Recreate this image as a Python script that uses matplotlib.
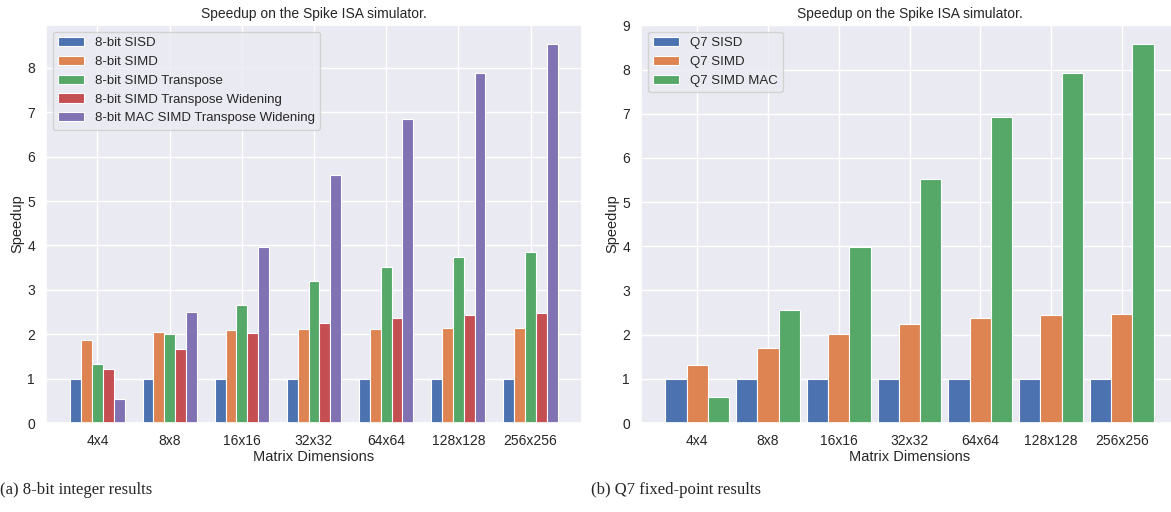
import numpy as np
import matplotlib
matplotlib.use("Agg")
import matplotlib.pyplot as plt
import seaborn as sns

sizes = ["4x4", "8x8", "16x16", "32x32", "64x64", "128x128", "256x256"]

# 8-bit integer results
int8_labels = [
    "8-bit SISD",
    "8-bit SIMD",
    "8-bit SIMD Transpose",
    "8-bit SIMD Transpose Widening",
    "8-bit MAC SIMD Transpose Widening",
]
int8_sisd = [1.0, 1.0, 1.0, 1.0, 1.0, 1.0, 1.0]
int8_simd = [1.88, 2.04, 2.10, 2.12, 2.12, 2.14, 2.14]
int8_transpose = [1.32, 2.00, 2.66, 3.19, 3.52, 3.73, 3.85]
int8_widening = [1.22, 1.67, 2.02, 2.25, 2.37, 2.43, 2.48]
int8_mac = [0.54, 2.49, 3.97, 5.58, 6.85, 7.88, 8.54]

# Q7 fixed-point results
q7_labels = ["Q7 SISD", "Q7 SIMD", "Q7 SIMD MAC"]
q7_sisd = [1.0, 1.0, 1.0, 1.0, 1.0, 1.0, 1.0]
q7_simd = [1.31, 1.70, 2.01, 2.24, 2.38, 2.44, 2.47]
q7_mac = [0.58, 2.55, 3.98, 5.53, 6.93, 7.93, 8.58]

sns.set_theme(style="darkgrid")
plt.rcParams["font.family"] = ["Liberation Sans", "DejaVu Sans"]
colors = sns.color_palette("deep")


def grouped_bars(ax, series, labels, width):
    x = np.arange(len(sizes))
    n = len(series)
    for i, (vals, lab) in enumerate(zip(series, labels)):
        offset = (i - (n - 1) / 2) * width
        ax.bar(x + offset, vals, width, label=lab, color=colors[i],
               edgecolor="white", linewidth=0.8)
    ax.set_xticks(x)
    ax.set_xticklabels(sizes, fontsize=10)
    ax.tick_params(axis="both", labelsize=10, pad=2)
    ax.set_xlabel("Matrix Dimensions", fontsize=10.5, labelpad=1)
    ax.set_ylabel("Speedup", fontsize=10.5, labelpad=2)
    ax.set_title("Speedup on the Spike ISA simulator.", fontsize=10, pad=5)
    ax.legend(loc="upper left", fontsize=9.5, frameon=True)


fig = plt.figure(figsize=(11.71, 5.12), dpi=100)
ax1 = fig.add_axes([0.0393, 0.1738, 0.4577, 0.7774])
ax2 = fig.add_axes([0.5474, 0.1738, 0.4586, 0.7774])

grouped_bars(ax1, [int8_sisd, int8_simd, int8_transpose, int8_widening, int8_mac],
             int8_labels, 0.15)
grouped_bars(ax2, [q7_sisd, q7_simd, q7_mac], q7_labels, 0.3)
ax1.set_yticks(range(0, 9))
ax2.set_yticks(range(0, 10))

fig.text(0.0, 0.043, "(a) 8-bit integer results", fontsize=12,
         family="Liberation Serif", ha="left", va="center")
fig.text(0.505, 0.043, "(b) Q7 fixed-point results", fontsize=12,
         family="Liberation Serif", ha="left", va="center")

fig.savefig("out.png", dpi=100, facecolor="white")
